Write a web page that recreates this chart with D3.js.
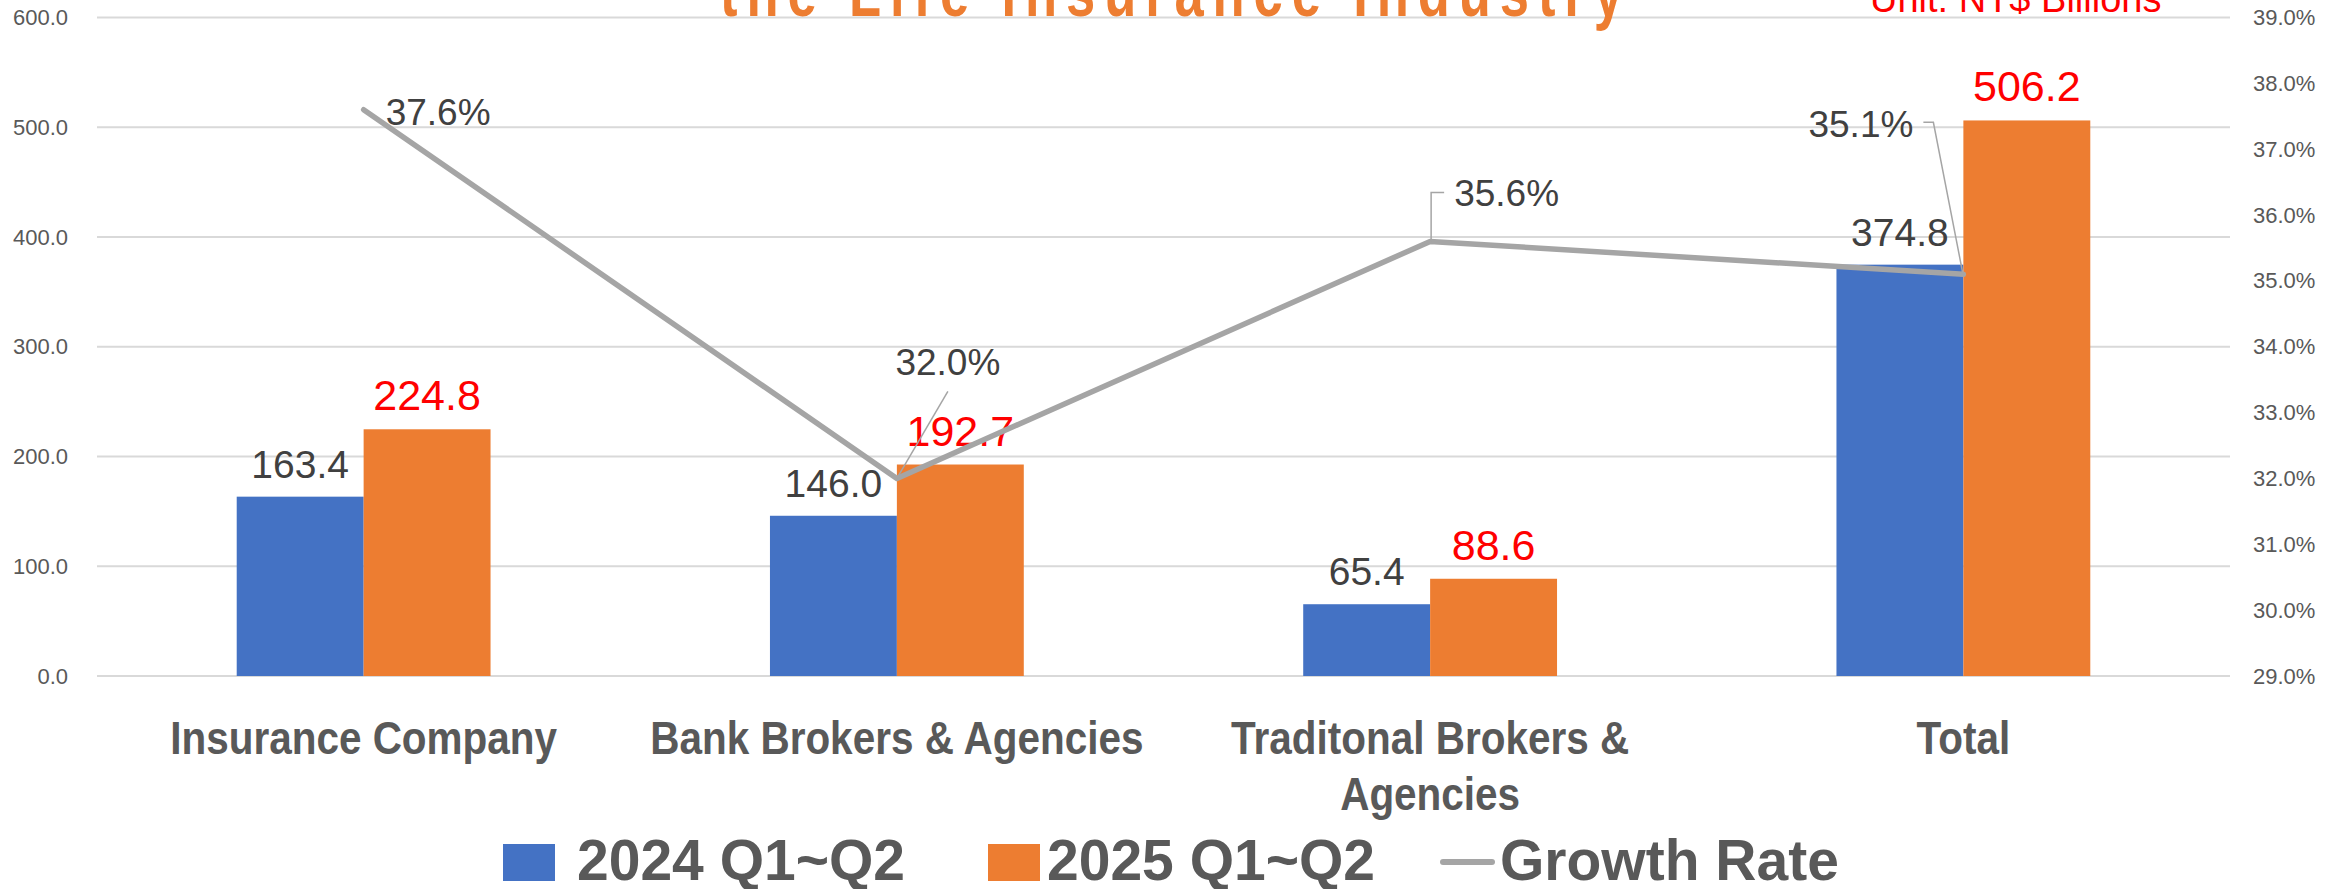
<!DOCTYPE html>
<html>
<head>
<meta charset="utf-8">
<script src="https://cdn.jsdelivr.net/npm/d3@7"></script>
<style>
  html, body { margin: 0; padding: 0; background: #ffffff; }
  svg { display: block; }
  text { font-family: "Liberation Sans", Arial, sans-serif; }
</style>
</head>
<body>
<svg id="chart" width="2340" height="889"></svg>
<script>
// ---------------- DATA ----------------
const categories = ["Insurance Company", "Bank Brokers & Agencies", "Traditonal Brokers & Agencies", "Total"];
const series2024 = [163.4, 146.0, 65.4, 374.8];
const series2025 = [224.8, 192.7, 88.6, 506.2];
const growthRate = [37.6, 32.0, 35.6, 35.1];
const seriesNames = ["2024 Q1~Q2", "2025 Q1~Q2", "Growth Rate"];
const leftTicks = [0, 100, 200, 300, 400, 500, 600];
const rightTicks = [29, 30, 31, 32, 33, 34, 35, 36, 37, 38, 39];
const titleText = "the Life Insurance Industry";
const unitText = "Unit: NT$ Billions";

// ---------------- LAYOUT / STYLE ----------------
const W = 2340, H = 889;
const plot = { left: 97, right: 2230, top: 17.5, bottom: 676 };
const colors = { s2024: "#4472C4", s2025: "#ED7D31", line: "#A5A5A5", grid: "#D9D9D9",
                 tick: "#595959", label: "#404040", red: "#FF0000", title: "#ED7D31" };

// label placement for growth-rate labels (relative to the point), as moved in the original
const pctLayout = [
  { dx: 22, dy: 15, anchor: "start", leader: null },
  { dx: 51, dy: -103, anchor: "middle", leader: [[51, -87], [0, 0]] },
  { dx: 24, dy: -35, anchor: "start", leader: [[14, -49], [1, -49], [1, 0]] },
  { dx: -50, dy: -137, anchor: "end", leader: [[-40, -152], [-30, -152], [0, 2]] }
];

const svg = d3.select("#chart");
svg.append("rect").attr("width", W).attr("height", H).attr("fill", "#fff");

const x0 = d3.scaleBand().domain(categories).range([plot.left, plot.right])
  .paddingInner(0.524).paddingOuter(0.262);
const x1 = d3.scaleBand().domain(["s2024", "s2025"]).range([0, x0.bandwidth()]).padding(0);
const yL = d3.scaleLinear().domain([0, 600]).range([plot.bottom, plot.top]);
const yR = d3.scaleLinear().domain([29, 39]).range([plot.bottom, plot.top]);

// gridlines
svg.append("g").selectAll("line").data(leftTicks).join("line")
  .attr("x1", plot.left).attr("x2", plot.right)
  .attr("y1", d => yL(d)).attr("y2", d => yL(d))
  .attr("stroke", colors.grid).attr("stroke-width", 2);

// left axis
const axL = svg.append("g").attr("transform", "translate(68,0)")
  .call(d3.axisLeft(yL).tickValues(leftTicks).tickFormat(d3.format(".1f")).tickSize(0).tickPadding(0));
axL.select(".domain").remove();
axL.selectAll("text").attr("fill", colors.tick).style("font-size", "22px")
  .style("font-family", "'Liberation Sans', Arial, sans-serif");

// right axis
const axR = svg.append("g").attr("transform", "translate(2253,0)")
  .call(d3.axisRight(yR).tickValues(rightTicks).tickFormat(d => d.toFixed(1) + "%").tickSize(0).tickPadding(0));
axR.select(".domain").remove();
axR.selectAll("text").attr("fill", colors.tick).style("font-size", "22px")
  .style("font-family", "'Liberation Sans', Arial, sans-serif");

// bars
const rows = categories.map((c, i) => ({ cat: c, vals: [
  { key: "s2024", v: series2024[i] }, { key: "s2025", v: series2025[i] }] }));
const groups = svg.append("g").selectAll("g").data(rows).join("g")
  .attr("transform", d => `translate(${x0(d.cat)},0)`);
groups.selectAll("rect").data(d => d.vals).join("rect")
  .attr("x", d => x1(d.key)).attr("width", x1.bandwidth())
  .attr("y", d => yL(d.v)).attr("height", d => yL(0) - yL(d.v))
  .attr("fill", d => colors[d.key]);

// bar value labels
groups.selectAll("text.val").data(d => d.vals).join("text").attr("class", "val")
  .attr("x", d => x1(d.key) + x1.bandwidth() / 2)
  .attr("y", d => yL(d.v) - 19)
  .attr("text-anchor", "middle")
  .attr("fill", d => d.key === "s2024" ? colors.label : colors.red)
  .style("font-size", d => d.key === "s2024" ? "39px" : "43px")
  .text(d => d.v.toFixed(1));

// growth line
const cx = c => x0(c) + x0.bandwidth() / 2;
const pts = categories.map((c, i) => ({ x: cx(c), y: yR(growthRate[i]), v: growthRate[i] }));
svg.append("path").datum(pts)
  .attr("d", d3.line().x(d => d.x).y(d => d.y))
  .attr("fill", "none").attr("stroke", colors.line).attr("stroke-width", 5.5)
  .attr("stroke-linecap", "round").attr("stroke-linejoin", "round");

// leader lines + percent labels
pts.forEach((p, i) => {
  const L = pctLayout[i];
  if (L.leader) {
    svg.append("path")
      .attr("d", d3.line()(L.leader.map(q => [p.x + q[0], p.y + q[1]])))
      .attr("fill", "none").attr("stroke", colors.line).attr("stroke-width", 1.5);
  }
  svg.append("text").attr("x", p.x + L.dx).attr("y", p.y + L.dy)
    .attr("text-anchor", L.anchor).attr("fill", colors.label)
    .style("font-size", "37px").text(p.v.toFixed(1) + "%");
});

// category labels (wrapped)
const catScale = 0.88;
const catG = svg.append("g");
categories.forEach(c => {
  const g = catG.append("g").attr("transform", `translate(${cx(c)},754) scale(${catScale},1)`);
  const t = g.append("text").attr("text-anchor", "middle").attr("fill", colors.tick)
    .style("font-size", "46px").style("font-weight", "bold");
  const words = c.split(" ");
  let line = [], lineNo = 0;
  let tspan = t.append("tspan").attr("x", 0).attr("y", 0);
  words.forEach(w => {
    line.push(w);
    tspan.text(line.join(" "));
    if (tspan.node().getComputedTextLength() > 600 && line.length > 1) {
      line.pop();
      tspan.text(line.join(" "));
      line = [w];
      lineNo++;
      tspan = t.append("tspan").attr("x", 0).attr("y", lineNo * 56).text(w);
    }
  });
});

// legend
const legendX = [503, 988, 1441];
const legend = svg.append("g");
seriesNames.forEach((name, i) => {
  const g = legend.append("g").attr("transform", `translate(${legendX[i]},0)`);
  if (i < 2) {
    g.append("rect").attr("x", 0).attr("y", 844).attr("width", 52).attr("height", 37)
      .attr("fill", i === 0 ? colors.s2024 : colors.s2025);
  } else {
    g.append("line").attr("x1", 2).attr("x2", 51).attr("y1", 862).attr("y2", 862)
      .attr("stroke", colors.line).attr("stroke-width", 6).attr("stroke-linecap", "round");
  }
  g.append("text").attr("x", i === 0 ? 74 : 59).attr("y", 880)
    .attr("fill", colors.tick).style("font-size", "57px").style("font-weight", "bold")
    .text(name);
});

// title (top clipped) and unit
svg.append("g").attr("transform", "translate(720,16) scale(0.75,1)")
  .append("text").attr("x", 0).attr("y", 0).attr("fill", colors.title)
  .style("font-size", "70px").style("font-weight", "bold").style("letter-spacing", "11.9px")
  .text(titleText);
svg.append("text").attr("x", 1870).attr("y", 12).attr("fill", colors.red)
  .style("font-size", "38px").text(unitText);
</script>
</body>
</html>
